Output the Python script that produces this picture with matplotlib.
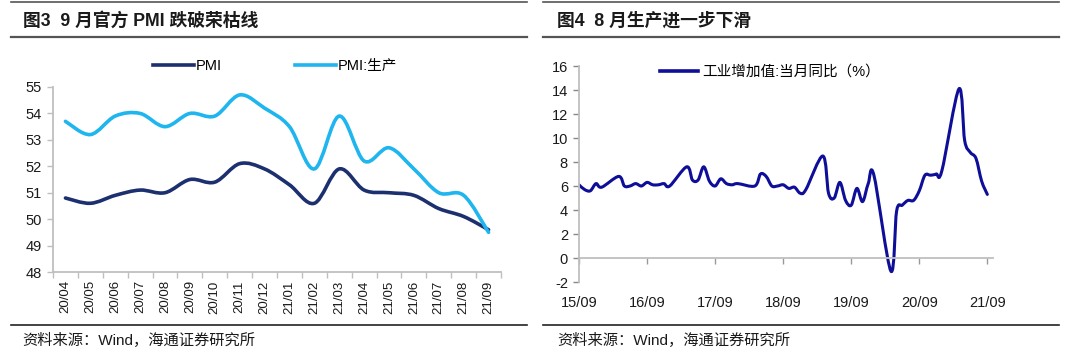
import numpy as np
import matplotlib
matplotlib.use("Agg")
import matplotlib.pyplot as plt
from matplotlib.path import Path
from matplotlib.patches import PathPatch
from matplotlib.lines import Line2D

plt.rcParams['font.family'] = ['Liberation Sans', 'Noto Sans CJK SC']
plt.rcParams['axes.unicode_minus'] = False

# -------------------------
# Data: left panel (monthly PMI)
# -------------------------

pmi_months = ["20/04", "20/05", "20/06", "20/07", "20/08", "20/09",
              "20/10", "20/11", "20/12", "21/01", "21/02", "21/03",
              "21/04", "21/05", "21/06", "21/07", "21/08", "21/09"]

pmi = [50.8, 50.6, 50.9, 51.1, 51.0, 51.5, 51.4, 52.1, 51.9,
       51.3, 50.6, 51.9, 51.1, 51.0, 50.9, 50.4, 50.1, 49.6]

pmi_prod = [53.7, 53.2, 53.9, 54.0, 53.5, 54.0, 53.9, 54.7, 54.2,
            53.5, 51.9, 53.9, 52.2, 52.7, 51.9, 51.0, 50.9, 49.5]

# -------------------------
# Data: right panel (industrial value added yoy, 2015/08 - 2021/08)
# Jan / Feb not published separately -> None
# -------------------------

iva_2015 = [6.1, 5.7, 5.6, 6.2, 5.9]
iva_2016 = [None, None, 6.8, 6.0, 6.0, 6.2, 6.0, 6.3, 6.1, 6.1, 6.2, 6.0]
iva_2017 = [None, None, 7.6, 6.5, 6.5, 7.6, 6.4, 6.0, 6.6, 6.2, 6.1, 6.2]
iva_2018 = [None, None, 6.0, 7.0, 6.8, 6.0, 6.0, 6.1, 5.8, 5.9, 5.4, 5.7]
iva_2019 = [None, None, 8.5, 5.4, 5.0, 6.3, 4.8, 4.4, 5.8, 4.7, 6.2, 6.9]
iva_2020 = [None, None, -1.1, 3.9, 4.4, 4.8, 4.8, 5.6, 6.9, 6.9, 7.0, 7.3]
iva_2021 = [None, None, 14.1, 9.8, 8.8, 8.3, 6.4, 5.3]

iva = iva_2015 + iva_2016 + iva_2017 + iva_2018 + iva_2019 + iva_2020 + iva_2021

iva_tick_labels = ["15/09", "16/09", "17/09", "18/09", "19/09", "20/09", "21/09"]

# -------------------------
# Styles
# -------------------------

c_pmi = "#1C2F6E"
c_prod = "#1FB5EF"
c_iva = "#0E0E99"
c_axis = "#BFBFBF"
c_text = "#1a1a1a"


def smooth_path(xs, ys):
    # Excel-like smoothed line: Catmull-Rom as cubic Bezier segments
    n = len(xs)
    verts = [(xs[0], ys[0])]
    codes = [Path.MOVETO]
    for i in range(n - 1):
        a = i - 1 if i > 0 else i
        d = i + 2 if i + 2 < n else i + 1
        c1 = (xs[i] + (xs[i + 1] - xs[a]) / 6, ys[i] + (ys[i + 1] - ys[a]) / 6)
        c2 = (xs[i + 1] - (xs[d] - xs[i]) / 6, ys[i + 1] - (ys[d] - ys[i]) / 6)
        verts += [c1, c2, (xs[i + 1], ys[i + 1])]
        codes += [Path.CURVE4] * 3
    return Path(verts, codes)


def add_smooth(ax, xs, ys, color, lw):
    patch = PathPatch(smooth_path(xs, ys), facecolor="none", edgecolor=color,
                      lw=lw, capstyle="round", joinstyle="round")
    ax.add_patch(patch)


fig = plt.figure(figsize=(10.8, 3.58), dpi=100)

# -------------------------
# Panel frame lines and titles
# -------------------------

for x0, x1 in [(0.010, 0.488), (0.503, 0.981)]:
    fig.add_artist(Line2D([x0, x1], [0.994, 0.994], color="#555555", lw=1.2))
    fig.add_artist(Line2D([x0, x1], [0.897, 0.897], color="#555555", lw=1.6))
    fig.add_artist(Line2D([x0, x1], [0.092, 0.092], color="#222222", lw=1.2))

fig.text(0.021, 0.943, "图3  9 月官方 PMI 跌破荣枯线", fontsize=12.8,
         fontweight="bold", va="center", ha="left", color=c_text)
fig.text(0.516, 0.943, "图4  8 月生产进一步下滑", fontsize=12.8,
         fontweight="bold", va="center", ha="left", color=c_text)

fig.text(0.021, 0.050, "资料来源：Wind，海通证券研究所", fontsize=11,
         va="center", ha="left", color=c_text)
fig.text(0.516, 0.050, "资料来源：Wind，海通证券研究所", fontsize=11,
         va="center", ha="left", color=c_text)

# -------------------------
# Left panel
# -------------------------

ax1 = fig.add_axes([53 / 1080, 1 - 272 / 358, 448 / 1080, 185 / 358])

xi = np.arange(len(pmi_months))
add_smooth(ax1, xi, pmi, c_pmi, 2.6)
add_smooth(ax1, xi, pmi_prod, c_prod, 2.6)

ax1.set_xlim(-0.5, len(pmi_months) - 0.5)
ax1.set_ylim(48, 55)
ax1.set_yticks(range(48, 56))
ax1.set_xticks(np.arange(-0.5, len(pmi_months)), labels=[])
ax1.set_xticks(xi, labels=pmi_months, minor=True, rotation=90)
ax1.tick_params(axis="x", which="major", length=4, width=1, color=c_axis)
ax1.tick_params(axis="x", which="minor", length=0, pad=6, labelsize=9.5,
                labelcolor=c_text)
ax1.tick_params(axis="y", length=4, width=1, color=c_axis, labelsize=10.5,
                labelcolor=c_text, pad=4)
for s in ["top", "right"]:
    ax1.spines[s].set_visible(False)
for s in ["left", "bottom"]:
    ax1.spines[s].set_color(c_axis)
    ax1.spines[s].set_linewidth(1.3)

h1 = [Line2D([], [], color=c_pmi, lw=2.6), Line2D([], [], color=c_prod, lw=2.6)]
ax1.legend(h1, ["PMI", "PMI:生产"], ncol=2, loc="center left",
           bbox_to_anchor=(153 / 1080, 1 - 66 / 358),
           bbox_transform=fig.transFigure, frameon=False, fontsize=10.5,
           handlelength=2.8, handletextpad=0.15, columnspacing=5.0,
           borderpad=0, borderaxespad=0)

# -------------------------
# Right panel
# -------------------------

ax2 = fig.add_axes([579 / 1080, 1 - 282 / 358, 414 / 1080, 216 / 358])

mi = [i for i, v in enumerate(iva) if v is not None]
mv = [v for v in iva if v is not None]
add_smooth(ax2, mi, mv, c_iva, 2.2)

ax2.set_xlim(0, 73)
ax2.set_ylim(-2, 16)
ax2.set_yticks(range(-2, 17, 2))
ax2.tick_params(axis="y", length=4, width=1, color="#888888", labelsize=10.5,
                labelcolor=c_text, pad=4)

tick_pos = np.arange(0, 73, 12)
ax2.spines["bottom"].set_position(("data", 0))
ax2.set_xticks(tick_pos)
ax2.tick_params(axis="x", length=4, width=1, color="#999999", labelbottom=False)

sec = ax2.secondary_xaxis("bottom")
sec.set_xticks(tick_pos, labels=iva_tick_labels)
sec.tick_params(axis="x", length=0, pad=10, labelsize=10.5, labelcolor=c_text)
sec.spines["bottom"].set_visible(False)

for s in ["top", "right"]:
    ax2.spines[s].set_visible(False)
ax2.spines["left"].set_color(c_axis)
ax2.spines["left"].set_linewidth(1.3)
ax2.spines["bottom"].set_color(c_axis)
ax2.spines["bottom"].set_linewidth(1.3)

h2 = [Line2D([], [], color=c_iva, lw=2.6)]
ax2.legend(h2, ["工业增加值:当月同比（%）"], loc="center left",
           bbox_to_anchor=(660 / 1080, 1 - 72 / 358),
           bbox_transform=fig.transFigure, frameon=False, fontsize=10.5,
           handlelength=2.6, handletextpad=0.3, borderpad=0, borderaxespad=0)

fig.savefig("out.png", dpi=100)
